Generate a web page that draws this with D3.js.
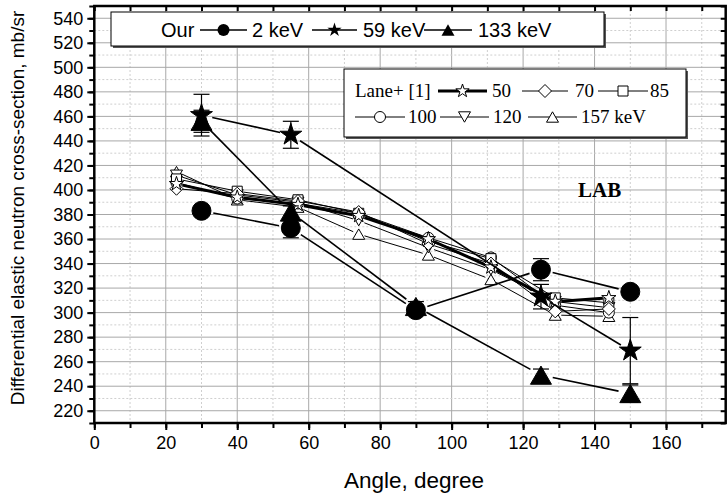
<!DOCTYPE html>
<html>
<head>
<meta charset="utf-8">
<script src="https://cdn.jsdelivr.net/npm/d3@7"></script>
<style>
  body { margin: 0; background: #fff; }
  svg text { font-family: "Liberation Sans", Arial, sans-serif; }
  .serif { font-family: "Liberation Serif", "Times New Roman", serif; }
</style>
</head>
<body>
<svg id="chart" width="727" height="498"></svg>
<script>
// our measurements
const ourAngles = [30, 55, 90, 125, 150];
const our2keV = [383, 369, 302, 335, 317];
const err2keV = [4, 8, 4, 9, 4];
const star59Angles = [30, 55, 125, 150];
const our59keV = [461, 445, 313, 269];
const err59keV = [17, 11, 10, 27];
const our133keV = [456, 382, 305, 249, 234];
const err133keV = [9, 5, 4, 5, 7];

// Lane+ [1]
const laneAngles = [23, 40, 57, 74, 93.5, 111, 129, 144];
const lane50 = [405, 394, 388, 379, 360, 337, 309, 312];
const lane70 = [401, 397, 391, 382, 356, 340, 301, 303];
const lane85 = [409, 399, 392, 381, 358, 344, 312, 308];
const lane100 = [406, 393, 389, 381, 361, 345, 306, 300];
const lane120 = [412, 396, 390, 375, 353, 335, 309, 304];
const lane157 = [415, 392, 386, 364, 347, 327, 298, 297];

const xTicks = [0, 20, 40, 60, 80, 100, 120, 140, 160];
const yTicks = [220, 240, 260, 280, 300, 320, 340, 360, 380, 400, 420, 440, 460, 480, 500, 520, 540];

const svg = d3.select('#chart');
const L = 94.3, R = 725.7, T = 6, B = 423;

const x = d3.scaleLinear().domain([0, 176.7]).range([L, R]);
const y = d3.scaleLinear().domain([210, 550]).range([B, T]);

// marker shapes
const tri = (w, down) => ({
  draw(ctx) {
    const h = w * 0.866, s = down ? -1 : 1;
    ctx.moveTo(0, -s * h / 2);
    ctx.lineTo(w / 2, s * h / 2);
    ctx.lineTo(-w / 2, s * h / 2);
    ctx.closePath();
  }
});
const diamond = (r) => ({
  draw(ctx) {
    ctx.moveTo(0, -r); ctx.lineTo(r, 0); ctx.lineTo(0, r); ctx.lineTo(-r, 0); ctx.closePath();
  }
});
const circ = (r) => ({ draw(ctx) { ctx.moveTo(r, 0); ctx.arc(0, 0, r, 0, 2 * Math.PI); } });
const sq = (r) => ({ draw(ctx) { ctx.rect(-r, -r, 2 * r, 2 * r); } });
const star = (r) => d3.symbol(d3.symbolStar, r * r / 0.8908130915292852)();

function shape(t) { return typeof t === 'string' ? t : d3.symbol(t, 1)(); }

// grid
const grid = svg.append('g');
d3.range(10, 177, 10).forEach(v => {
  grid.append('line').attr('x1', x(v)).attr('x2', x(v)).attr('y1', T).attr('y2', B)
    .attr('stroke', v % 20 === 0 ? '#a8a8a8' : '#cfcfcf')
    .attr('stroke-width', 1)
    .attr('stroke-dasharray', v % 20 === 0 ? null : '2,2');
});
d3.range(220, 550, 10).forEach(v => {
  grid.append('line').attr('x1', L).attr('x2', R).attr('y1', y(v)).attr('y2', y(v))
    .attr('stroke', v % 20 === 0 ? '#a8a8a8' : '#cfcfcf')
    .attr('stroke-width', 1)
    .attr('stroke-dasharray', v % 20 === 0 ? null : '2,2');
});

// segments with gaps around markers
function drawLine(angles, vals, gap, width) {
  const pts = angles.map((a, i) => [x(a), y(vals[i])]);
  const g = svg.append('g');
  for (let i = 0; i < pts.length - 1; i++) {
    const [x1, y1] = pts[i], [x2, y2] = pts[i + 1];
    const d = Math.hypot(x2 - x1, y2 - y1);
    const ux = (x2 - x1) / d, uy = (y2 - y1) / d;
    g.append('line')
      .attr('x1', x1 + ux * gap).attr('y1', y1 + uy * gap)
      .attr('x2', x2 - ux * gap).attr('y2', y2 - uy * gap)
      .attr('stroke', '#000').attr('stroke-width', width);
  }
}

function drawMarkers(angles, vals, type, fill) {
  svg.append('g').selectAll('path')
    .data(angles.map((a, i) => [a, vals[i]]))
    .join('path')
    .attr('transform', d => `translate(${x(d[0])},${y(d[1])})`)
    .attr('d', shape(type))
    .attr('fill', fill)
    .attr('stroke', '#000')
    .attr('stroke-width', 1);
}

function drawErrors(angles, vals, errs) {
  const g = svg.append('g').attr('stroke', '#000').attr('stroke-width', 1.2);
  angles.forEach((a, i) => {
    const cx = x(a), y1 = y(vals[i] + errs[i]), y2 = y(vals[i] - errs[i]);
    g.append('line').attr('x1', cx).attr('x2', cx).attr('y1', y1).attr('y2', y2);
    g.append('line').attr('x1', cx - 8).attr('x2', cx + 8).attr('y1', y1).attr('y2', y1);
    g.append('line').attr('x1', cx - 8).attr('x2', cx + 8).attr('y1', y2).attr('y2', y2);
  });
}

// Lane+ series
const lane = [
  [lane157, tri(12, false), 1],
  [lane120, tri(12, true), 1],
  [lane100, circ(5.5), 1],
  [lane85, sq(5), 1],
  [lane70, diamond(6.5), 1],
  [lane50, star(7.5), 3]
];
lane.forEach(([vals, t, w]) => drawLine(laneAngles, vals, 6, w));
lane.forEach(([vals, t]) => drawMarkers(laneAngles, vals, t, '#fff'));

// our series
drawLine(ourAngles, our133keV, 12, 1.6);
drawLine(ourAngles, our2keV, 12, 1.6);
drawLine(star59Angles, our59keV, 11, 1.6);
drawErrors(ourAngles, our133keV, err133keV);
drawErrors(ourAngles, our2keV, err2keV);
drawErrors(star59Angles, our59keV, err59keV);
drawMarkers(ourAngles, our2keV, circ(9.5), '#000');
drawMarkers(star59Angles, our59keV, star(11.5), '#000');
drawMarkers(ourAngles, our133keV, tri(21, false), '#000');

// axes
const ax = svg.append('g');
const minorX = d3.range(0, 177, 10);
const minorY = d3.range(210, 551, 10);
ax.append('g').attr('transform', `translate(0,${B})`)
  .call(d3.axisBottom(x).tickValues(minorX).tickSize(5).tickFormat(''));
ax.append('g').attr('transform', `translate(0,${B})`)
  .call(d3.axisBottom(x).tickValues(xTicks).tickSize(7).tickPadding(6).tickFormat(d3.format('d')));
ax.append('g').attr('transform', `translate(0,${T})`)
  .call(d3.axisBottom(x).tickValues(minorX).tickSize(5).tickFormat(''));
ax.append('g').attr('transform', `translate(${L},0)`)
  .call(d3.axisLeft(y).tickValues(minorY).tickSize(5).tickFormat(''));
ax.append('g').attr('transform', `translate(${L},0)`)
  .call(d3.axisLeft(y).tickValues(yTicks).tickSize(7).tickPadding(4).tickFormat(d3.format('d')));
ax.append('g').attr('transform', `translate(${R},0)`)
  .call(d3.axisLeft(y).tickValues(minorY).tickSize(5).tickFormat(''));
ax.selectAll('.domain').remove();
ax.selectAll('line').attr('stroke', '#000').attr('stroke-width', 2);
ax.selectAll('text').attr('font-size', 18).attr('fill', '#000')
  .attr('font-family', '"Liberation Sans", Arial, sans-serif');
svg.append('rect').attr('x', L).attr('y', T).attr('width', R - L).attr('height', B - T)
  .attr('fill', 'none').attr('stroke', '#000').attr('stroke-width', 2.5);

// legend 1
const lg1 = svg.append('g');
lg1.append('rect').attr('x', 113).attr('y', 14).attr('width', 493).attr('height', 34).attr('fill', '#555');
lg1.append('rect').attr('x', 111).attr('y', 12).attr('width', 493).attr('height', 34)
  .attr('fill', '#fff').attr('stroke', '#000').attr('stroke-width', 1);
const t1 = { size: 20, y: 37 };
lg1.append('text').attr('x', 161).attr('y', t1.y).attr('font-size', t1.size).text('Our');
[[200, 247, circ(6)], [312, 357, star(7.5)], [424, 472, tri(13, false)]].forEach(([a, b, t]) => {
  lg1.append('line').attr('x1', a).attr('x2', b).attr('y1', 30).attr('y2', 30).attr('stroke', '#000').attr('stroke-width', 1.6);
  lg1.append('path').attr('transform', `translate(${(a + b) / 2},30)`).attr('d', shape(t)).attr('fill', '#000');
});
lg1.append('text').attr('x', 252).attr('y', t1.y).attr('font-size', t1.size).text('2 keV');
lg1.append('text').attr('x', 363).attr('y', t1.y).attr('font-size', t1.size).text('59 keV');
lg1.append('text').attr('x', 478).attr('y', t1.y).attr('font-size', t1.size).text('133 keV');

// legend 2
const lg2 = svg.append('g');
lg2.append('rect').attr('x', 346).attr('y', 71).attr('width', 342).attr('height', 68).attr('fill', '#555');
lg2.append('rect').attr('x', 344).attr('y', 69).attr('width', 342).attr('height', 68)
  .attr('fill', '#fff').attr('stroke', '#000').attr('stroke-width', 1);
const items2 = [
  [438, 487, 97, star(7), 3], [522, 568, 97, diamond(6.5), 1], [598, 648, 97, sq(5), 1],
  [355, 405, 123, circ(5.5), 1], [440, 489, 123, tri(12, true), 1], [528, 577, 123, tri(12, false), 1]
];
items2.forEach(([a, b, yy, t, w]) => {
  lg2.append('line').attr('x1', a).attr('x2', b).attr('y1', yy - 6).attr('y2', yy - 6).attr('stroke', '#000').attr('stroke-width', w);
  lg2.append('path').attr('transform', `translate(${(a + b) / 2},${yy - 6})`).attr('d', shape(t))
    .attr('fill', '#fff').attr('stroke', '#000');
});
[[355, 97, 'Lane+ [1]'], [492, 97, '50'], [575, 97, '70'], [650, 97, '85'],
 [408, 123, '100'], [493, 123, '120'], [581, 123, '157 keV']].forEach(([xx, yy, s]) => {
  lg2.append('text').attr('class', 'serif').attr('x', xx).attr('y', yy).attr('font-size', 19).text(s);
});

svg.append('text').attr('class', 'serif').attr('x', 578).attr('y', 197)
  .attr('font-size', 21).attr('font-weight', 'bold').text('LAB');

// axis titles
svg.append('text').attr('x', 414).attr('y', 488).attr('text-anchor', 'middle')
  .attr('font-size', 22.5).text('Angle, degree');
svg.append('text').attr('transform', 'translate(24,208) rotate(-90)').attr('text-anchor', 'middle')
  .attr('font-size', 19).text('Differential elastic neutron cross-section, mb/sr');
</script>
</body>
</html>
